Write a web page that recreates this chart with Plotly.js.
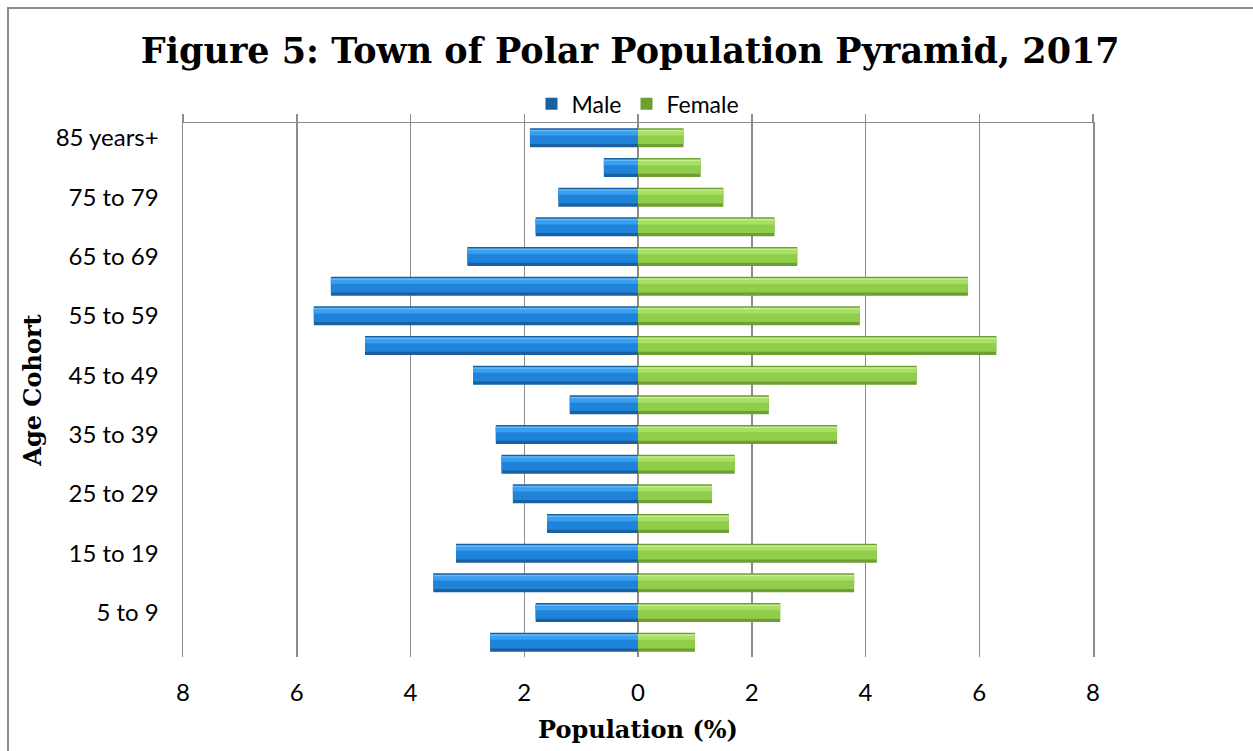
<!DOCTYPE html>
<html>
<head>
<meta charset="utf-8">
<script src="https://cdn.plot.ly/plotly-3.0.1.min.js"></script>
<style>
  html, body { margin: 0; padding: 0; background: #ffffff; }
  #wrap { position: relative; width: 1253px; height: 751px; overflow: hidden; }
  #chart { position: absolute; left: 0; top: 0; width: 1253px; height: 751px; }
  #frame { position: absolute; left: 7px; top: 7px; width: 1400px; height: 900px;
           border-left: 2px solid #8c8c8c; border-top: 2px solid #8c8c8c; pointer-events: none; }
</style>
</head>
<body>
<div id="wrap">
  <div id="chart"></div>
  <div id="frame"></div>
</div>
<script>
// ---- data (bottom to top) ----
const ageGroups = ["0 to 4","5 to 9","10 to 14","15 to 19","20 to 24","25 to 29","30 to 34",
  "35 to 39","40 to 44","45 to 49","50 to 54","55 to 59","60 to 64","65 to 69","70 to 74",
  "75 to 79","80 to 84","85 years+"];
const maleValues   = [2.6, 1.8, 3.6, 3.2, 1.6, 2.2, 2.4, 2.5, 1.2, 2.9, 4.8, 5.7, 5.4, 3.0, 1.8, 1.4, 0.6, 1.9];
const femaleValues = [1.0, 2.5, 3.8, 4.2, 1.6, 1.3, 1.7, 3.5, 2.3, 4.9, 6.3, 3.9, 5.8, 2.8, 2.4, 1.5, 1.1, 0.8];
const shownAgeLabels = ["5 to 9","15 to 19","25 to 29","35 to 39","45 to 49","55 to 59","65 to 69","75 to 79","85 years+"];
const xTickValues = [-8, -6, -4, -2, 0, 2, 4, 6, 8];
const xTickText   = ["8", "6", "4", "2", "0", "2", "4", "6", "8"];

const maleNeg = maleValues.map(v => -v);

function layerTrace(xs, name, color, offset, width, legend, xaxisId) {
  return {
    type: 'bar', orientation: 'h', y: ageGroups, x: xs, name: name,
    legendgroup: name, showlegend: legend, xaxis: xaxisId || 'x',
    marker: { color: color, line: { width: 0 } },
    offset: offset, width: width, hoverinfo: legend ? 'x+y+name' : 'skip'
  };
}

const traces = [
  // male bevel layers
  layerTrace(maleNeg, 'Male', '#1a5f9f', -0.32, 0.64, true),
  layerTrace(maleNeg, 'Male', '#2083da', -0.21, 0.47, false),
  layerTrace(maleNeg, 'Male', '#3a9ff0', 0.08, 0.16, false),
  layerTrace(maleNeg, 'Male', '#66bcf8', 0.22, 0.05, false),
  // female bevel layers
  layerTrace(femaleValues, 'Female', '#6f9e32', -0.32, 0.64, true),
  layerTrace(femaleValues, 'Female', '#8fcd4a', -0.21, 0.47, false),
  layerTrace(femaleValues, 'Female', '#a8df66', 0.08, 0.16, false),
  layerTrace(femaleValues, 'Female', '#c8f092', 0.22, 0.05, false),
  // transparent copy so the top (mirror) axis gets drawn
  layerTrace(femaleValues, 'Female', 'rgba(0,0,0,0)', -0.32, 0.64, false, 'x2')
];

const gridColor = '#8c8c8c';
const tickFont = { family: 'Lato, "Open Sans", sans-serif', size: 24, color: '#000000' };
const legendFont = { family: 'Lato, "Open Sans", sans-serif', size: 23, color: '#000000' };
const serifBold = 'DejaVu Serif, "Liberation Serif", serif';
const xRange = [-8, 8];

const layout = {
  width: 1253, height: 751,
  margin: { l: 183, r: 160, t: 123, b: 94, pad: 0 },
  paper_bgcolor: '#ffffff', plot_bgcolor: '#ffffff',
  barmode: 'overlay',
  title: {
    text: '<b>Figure 5: Town of Polar Population Pyramid, 2017</b>',
    font: { family: serifBold, size: 35, color: '#000000' },
    xref: 'container', x: 0.503, xanchor: 'center',
    yref: 'container', y: 0.933, yanchor: 'middle'
  },
  legend: {
    orientation: 'h', x: 0.5, xanchor: 'center', y: 1.036, yanchor: 'middle',
    font: legendFont, bgcolor: 'rgba(0,0,0,0)', traceorder: 'normal',
    itemwidth: 30
  },
  xaxis: {
    range: xRange, tickmode: 'array', tickvals: xTickValues, ticktext: xTickText,
    showgrid: true, gridcolor: gridColor, gridwidth: 1.5,
    zeroline: true, zerolinecolor: gridColor, zerolinewidth: 1.5,
    showline: false, ticks: '', ticklabelstandoff: 19,
    tickfont: tickFont, fixedrange: true,
    title: { text: '<b>Population (%)</b>', font: { family: serifBold, size: 24, color: '#000000' }, standoff: 16 },
    automargin: false
  },
  xaxis2: {
    overlaying: 'x', side: 'top', anchor: 'y',
    range: xRange, tickmode: 'array', tickvals: xTickValues,
    showticklabels: false, showgrid: false, zeroline: false,
    showline: true, linecolor: gridColor, linewidth: 1.5,
    ticks: 'outside', ticklen: 8, tickwidth: 1.5, tickcolor: gridColor,
    fixedrange: true
  },
  yaxis: {
    type: 'category', categoryorder: 'array', categoryarray: ageGroups,
    range: [-0.5, 17.5], tickmode: 'array', tickvals: shownAgeLabels,
    showgrid: false, zeroline: false, ticks: '',
    showline: true, mirror: true, linecolor: gridColor, linewidth: 1.5,
    ticklabelstandoff: 18, tickfont: tickFont, fixedrange: true,
    title: { text: '<b>Age Cohort</b>', font: { family: serifBold, size: 24, color: '#000000' }, standoff: 7 },
    automargin: false
  },
  showlegend: true
};

Plotly.newPlot('chart', traces, layout, { displayModeBar: false, staticPlot: true });
</script>
</body>
</html>
